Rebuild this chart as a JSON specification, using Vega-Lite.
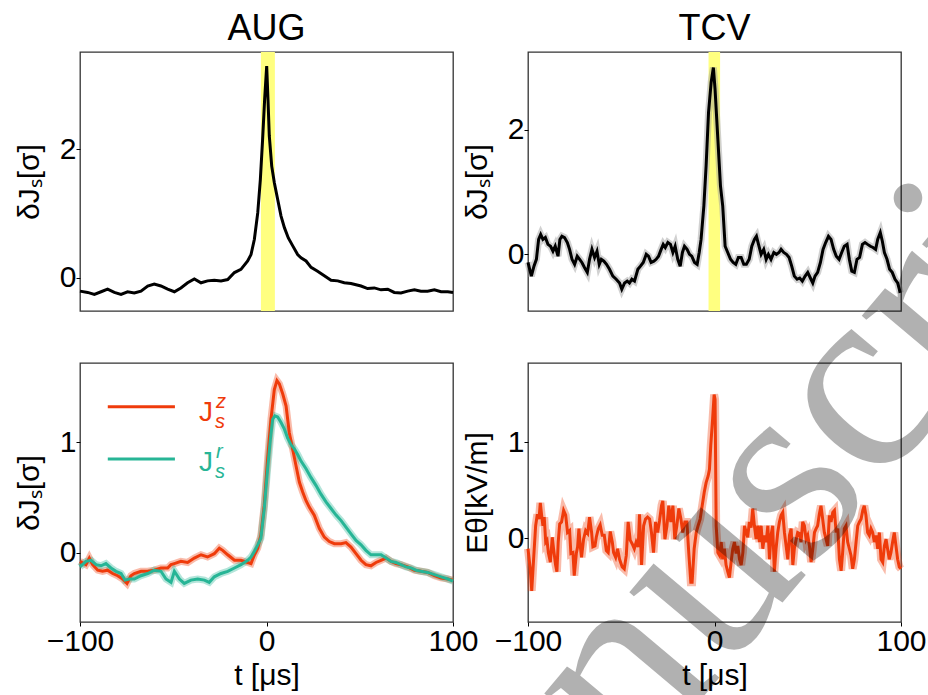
{
  "$schema": "https://vega.github.io/schema/vega-lite/v6.json",
  "padding": {"left": 13, "top": 10, "right": 0, "bottom": 0},
  "background": "white",
  "columns": 2,
  "bounds": "flush",
  "spacing": {"row": 52, "column": 75},
  "config": {
    "font": "Liberation Sans",
    "view": {"stroke": "#333", "strokeWidth": 1.3},
    "axis": {"domain": false, "grid": false, "ticks": true, "tickColor": "#000", "tickSize": 4, "tickWidth": 1, "labelFontSize": 30, "titleFontSize": 30, "titleFontWeight": "normal", "labelColor": "#000", "titleColor": "#000", "labelPadding": 0, "labelFont": "Liberation Sans", "titleFont": "Liberation Sans", "labelOverlap": false, "labelBound": false, "labelFlush": false, "format": "d"},
    "title": {"fontSize": 36, "fontWeight": "normal", "font": "Liberation Sans", "color": "#000", "offset": 0}
  },
  "datasets": {
    "augband": [{"a": -3.0, "b": 4.5}],
    "tcvband": [{"a": -3.2, "b": 3.0}],
    "aug": [
      {"t": -100, "v": -0.21}, {"t": -95.9, "v": -0.23}, {"t": -92.3, "v": -0.26}, {"t": -88.7, "v": -0.22}, {"t": -85.2, "v": -0.18}, {"t": -81.6, "v": -0.23}, {"t": -78.0, "v": -0.26}, {"t": -74.5, "v": -0.22}, {"t": -70.9, "v": -0.24}, {"t": -67.3, "v": -0.21}, {"t": -63.7, "v": -0.13}, {"t": -60.2, "v": -0.10}, {"t": -56.6, "v": -0.13}, {"t": -53.0, "v": -0.18}, {"t": -49.4, "v": -0.22}, {"t": -45.9, "v": -0.16}, {"t": -42.3, "v": -0.08}, {"t": -38.7, "v": -0.02}, {"t": -35.1, "v": -0.08}, {"t": -31.6, "v": -0.05}, {"t": -28.0, "v": -0.04}, {"t": -24.4, "v": -0.05}, {"t": -20.8, "v": -0.03}, {"t": -17.2, "v": 0.08}, {"t": -13.7, "v": 0.13}, {"t": -10.1, "v": 0.26}, {"t": -8.3, "v": 0.36}, {"t": -6.5, "v": 0.60}, {"t": -4.7, "v": 1.01}, {"t": -3.3, "v": 1.53}, {"t": -2.1, "v": 2.15}, {"t": -1.0, "v": 2.78}, {"t": 0.1, "v": 3.30}, {"t": 0.8, "v": 2.78}, {"t": 1.5, "v": 2.21}, {"t": 2.8, "v": 1.74}, {"t": 4.2, "v": 1.48}, {"t": 6.0, "v": 1.22}, {"t": 7.8, "v": 0.96}, {"t": 9.6, "v": 0.78}, {"t": 11.7, "v": 0.62}, {"t": 14.0, "v": 0.50}, {"t": 16.7, "v": 0.36}, {"t": 18.5, "v": 0.31}, {"t": 21.2, "v": 0.26}, {"t": 23.9, "v": 0.16}, {"t": 27.4, "v": 0.10}, {"t": 31.0, "v": 0.03}, {"t": 34.6, "v": -0.04}, {"t": 38.2, "v": -0.05}, {"t": 41.7, "v": -0.08}, {"t": 45.3, "v": -0.09}, {"t": 50.7, "v": -0.13}, {"t": 54.2, "v": -0.17}, {"t": 57.8, "v": -0.16}, {"t": 61.4, "v": -0.19}, {"t": 65.0, "v": -0.18}, {"t": 68.5, "v": -0.23}, {"t": 72.1, "v": -0.24}, {"t": 75.7, "v": -0.21}, {"t": 79.3, "v": -0.19}, {"t": 82.8, "v": -0.21}, {"t": 86.4, "v": -0.21}, {"t": 90.0, "v": -0.19}, {"t": 93.6, "v": -0.22}, {"t": 97.2, "v": -0.22}, {"t": 100, "v": -0.23}
    ],
    "tcv": [
      {"t": -100.0, "v": -0.13}, {"t": -98.2, "v": -0.35}, {"t": -96.8, "v": -0.19}, {"t": -95.5, "v": -0.08}, {"t": -94.3, "v": 0.24}, {"t": -93.2, "v": 0.32}, {"t": -92.0, "v": 0.24}, {"t": -90.7, "v": 0.27}, {"t": -89.3, "v": 0.16}, {"t": -87.9, "v": 0.13}, {"t": -86.6, "v": 0.05}, {"t": -85.4, "v": 0.13}, {"t": -83.9, "v": -0.03}, {"t": -82.9, "v": 0.24}, {"t": -81.8, "v": 0.29}, {"t": -80.4, "v": 0.27}, {"t": -78.9, "v": 0.19}, {"t": -77.7, "v": 0.08}, {"t": -76.4, "v": -0.08}, {"t": -75.0, "v": -0.16}, {"t": -73.6, "v": -0.03}, {"t": -72.3, "v": -0.08}, {"t": -71.1, "v": -0.13}, {"t": -69.7, "v": -0.21}, {"t": -68.2, "v": -0.29}, {"t": -67.0, "v": -0.08}, {"t": -65.7, "v": 0.08}, {"t": -64.3, "v": -0.05}, {"t": -63.0, "v": 0.05}, {"t": -61.8, "v": -0.16}, {"t": -60.7, "v": -0.08}, {"t": -59.3, "v": -0.11}, {"t": -57.9, "v": -0.16}, {"t": -56.3, "v": -0.24}, {"t": -54.5, "v": -0.35}, {"t": -52.7, "v": -0.40}, {"t": -50.9, "v": -0.46}, {"t": -49.7, "v": -0.56}, {"t": -48.2, "v": -0.46}, {"t": -46.8, "v": -0.43}, {"t": -45.6, "v": -0.46}, {"t": -44.3, "v": -0.40}, {"t": -42.9, "v": -0.43}, {"t": -41.1, "v": -0.24}, {"t": -39.7, "v": -0.19}, {"t": -38.2, "v": -0.13}, {"t": -36.6, "v": 0.0}, {"t": -35.4, "v": -0.03}, {"t": -34.0, "v": -0.13}, {"t": -32.5, "v": -0.11}, {"t": -31.3, "v": -0.08}, {"t": -30.0, "v": -0.03}, {"t": -28.6, "v": 0.08}, {"t": -27.5, "v": 0.16}, {"t": -26.4, "v": 0.11}, {"t": -25.0, "v": 0.19}, {"t": -23.6, "v": 0.16}, {"t": -22.3, "v": 0.03}, {"t": -21.1, "v": 0.13}, {"t": -19.7, "v": -0.08}, {"t": -18.4, "v": -0.19}, {"t": -17.2, "v": 0.03}, {"t": -16.1, "v": 0.13}, {"t": -14.7, "v": 0.08}, {"t": -13.4, "v": 0.0}, {"t": -12.2, "v": -0.03}, {"t": -10.7, "v": -0.13}, {"t": -9.3, "v": -0.16}, {"t": -8.2, "v": 0.03}, {"t": -7.2, "v": 0.24}, {"t": -5.7, "v": 0.78}, {"t": -4.5, "v": 1.42}, {"t": -3.2, "v": 2.28}, {"t": -1.8, "v": 2.76}, {"t": -0.6, "v": 3.00}, {"t": 0.3, "v": 2.65}, {"t": 1.8, "v": 1.85}, {"t": 3.2, "v": 1.10}, {"t": 4.4, "v": 0.78}, {"t": 5.7, "v": 0.13}, {"t": 7.1, "v": 0.03}, {"t": 8.6, "v": -0.08}, {"t": 10.0, "v": -0.13}, {"t": 11.4, "v": -0.16}, {"t": 12.8, "v": -0.05}, {"t": 14.3, "v": -0.05}, {"t": 15.7, "v": -0.16}, {"t": 17.1, "v": -0.16}, {"t": 18.6, "v": -0.08}, {"t": 20.0, "v": 0.13}, {"t": 21.4, "v": 0.24}, {"t": 22.5, "v": 0.29}, {"t": 23.6, "v": 0.16}, {"t": 25.0, "v": 0.0}, {"t": 26.4, "v": 0.08}, {"t": 27.7, "v": -0.08}, {"t": 28.9, "v": 0.0}, {"t": 30.3, "v": -0.08}, {"t": 31.8, "v": 0.03}, {"t": 33.2, "v": 0.0}, {"t": 34.6, "v": 0.03}, {"t": 35.7, "v": 0.08}, {"t": 37.1, "v": 0.03}, {"t": 38.6, "v": 0.0}, {"t": 40.0, "v": -0.05}, {"t": 41.4, "v": -0.19}, {"t": 42.8, "v": -0.35}, {"t": 44.3, "v": -0.40}, {"t": 45.7, "v": -0.38}, {"t": 47.1, "v": -0.43}, {"t": 48.6, "v": -0.35}, {"t": 50.0, "v": -0.29}, {"t": 51.4, "v": -0.38}, {"t": 52.7, "v": -0.46}, {"t": 53.9, "v": -0.35}, {"t": 55.3, "v": -0.29}, {"t": 56.8, "v": -0.13}, {"t": 58.2, "v": 0.08}, {"t": 59.6, "v": 0.19}, {"t": 61.1, "v": 0.29}, {"t": 62.5, "v": 0.24}, {"t": 63.9, "v": 0.08}, {"t": 65.3, "v": -0.03}, {"t": 66.8, "v": -0.08}, {"t": 68.2, "v": 0.03}, {"t": 69.6, "v": 0.13}, {"t": 71.1, "v": 0.16}, {"t": 72.3, "v": -0.08}, {"t": 73.6, "v": -0.27}, {"t": 75.0, "v": -0.29}, {"t": 76.4, "v": -0.08}, {"t": 77.8, "v": -0.05}, {"t": 79.3, "v": 0.16}, {"t": 80.7, "v": 0.19}, {"t": 82.1, "v": 0.16}, {"t": 83.6, "v": 0.13}, {"t": 85.0, "v": 0.11}, {"t": 86.4, "v": 0.08}, {"t": 87.5, "v": 0.24}, {"t": 88.9, "v": 0.35}, {"t": 90.0, "v": 0.21}, {"t": 91.1, "v": 0.03}, {"t": 92.5, "v": -0.08}, {"t": 93.9, "v": -0.24}, {"t": 95.3, "v": -0.29}, {"t": 96.8, "v": -0.40}, {"t": 98.2, "v": -0.46}, {"t": 99.6, "v": -0.62}
    ],
    "augj": [
      {"series": "z", "t": -100, "v": -0.08}, {"series": "z", "t": -96.8, "v": -0.11}, {"series": "z", "t": -95.0, "v": -0.05}, {"series": "z", "t": -93.2, "v": -0.11}, {"series": "z", "t": -90.5, "v": -0.16}, {"series": "z", "t": -87.9, "v": -0.17}, {"series": "z", "t": -85.2, "v": -0.16}, {"series": "z", "t": -82.5, "v": -0.19}, {"series": "z", "t": -79.8, "v": -0.21}, {"series": "z", "t": -77.1, "v": -0.24}, {"series": "z", "t": -74.8, "v": -0.28}, {"series": "z", "t": -72.7, "v": -0.21}, {"series": "z", "t": -70.9, "v": -0.19}, {"series": "z", "t": -67.3, "v": -0.17}, {"series": "z", "t": -63.7, "v": -0.17}, {"series": "z", "t": -60.2, "v": -0.16}, {"series": "z", "t": -56.6, "v": -0.14}, {"series": "z", "t": -53.0, "v": -0.14}, {"series": "z", "t": -51.2, "v": -0.11}, {"series": "z", "t": -49.4, "v": -0.10}, {"series": "z", "t": -45.9, "v": -0.08}, {"series": "z", "t": -42.3, "v": -0.09}, {"series": "z", "t": -38.7, "v": -0.05}, {"series": "z", "t": -35.1, "v": -0.02}, {"series": "z", "t": -31.6, "v": -0.04}, {"series": "z", "t": -28.0, "v": -0.01}, {"series": "z", "t": -25.3, "v": 0.04}, {"series": "z", "t": -23.5, "v": 0.02}, {"series": "z", "t": -20.8, "v": -0.02}, {"series": "z", "t": -17.2, "v": -0.07}, {"series": "z", "t": -13.7, "v": -0.07}, {"series": "z", "t": -10.1, "v": -0.09}, {"series": "z", "t": -8.3, "v": -0.10}, {"series": "z", "t": -6.5, "v": -0.02}, {"series": "z", "t": -4.7, "v": 0.04}, {"series": "z", "t": -3.0, "v": 0.16}, {"series": "z", "t": -1.2, "v": 0.43}, {"series": "z", "t": 0.6, "v": 0.85}, {"series": "z", "t": 2.4, "v": 1.21}, {"series": "z", "t": 4.2, "v": 1.48}, {"series": "z", "t": 5.6, "v": 1.56}, {"series": "z", "t": 6.9, "v": 1.53}, {"series": "z", "t": 8.7, "v": 1.44}, {"series": "z", "t": 10.5, "v": 1.33}, {"series": "z", "t": 12.2, "v": 1.09}, {"series": "z", "t": 14.0, "v": 0.94}, {"series": "z", "t": 15.8, "v": 0.79}, {"series": "z", "t": 17.6, "v": 0.64}, {"series": "z", "t": 19.4, "v": 0.55}, {"series": "z", "t": 21.2, "v": 0.47}, {"series": "z", "t": 23.0, "v": 0.41}, {"series": "z", "t": 25.6, "v": 0.34}, {"series": "z", "t": 28.3, "v": 0.22}, {"series": "z", "t": 31.0, "v": 0.14}, {"series": "z", "t": 33.7, "v": 0.10}, {"series": "z", "t": 36.4, "v": 0.08}, {"series": "z", "t": 40.0, "v": 0.08}, {"series": "z", "t": 42.6, "v": 0.09}, {"series": "z", "t": 45.3, "v": 0.05}, {"series": "z", "t": 48.0, "v": -0.01}, {"series": "z", "t": 50.7, "v": -0.07}, {"series": "z", "t": 53.3, "v": -0.11}, {"series": "z", "t": 56.0, "v": -0.12}, {"series": "z", "t": 58.7, "v": -0.09}, {"series": "z", "t": 61.4, "v": -0.07}, {"series": "z", "t": 64.1, "v": -0.05}, {"series": "z", "t": 66.8, "v": -0.08}, {"series": "z", "t": 69.4, "v": -0.10}, {"series": "z", "t": 72.1, "v": -0.11}, {"series": "z", "t": 75.7, "v": -0.13}, {"series": "z", "t": 79.3, "v": -0.16}, {"series": "z", "t": 82.8, "v": -0.17}, {"series": "z", "t": 86.4, "v": -0.18}, {"series": "z", "t": 90.0, "v": -0.21}, {"series": "z", "t": 93.6, "v": -0.23}, {"series": "z", "t": 97.2, "v": -0.24}, {"series": "z", "t": 100, "v": -0.25},
      {"series": "r", "t": -100, "v": -0.13}, {"series": "r", "t": -96.8, "v": -0.08}, {"series": "r", "t": -94.1, "v": -0.07}, {"series": "r", "t": -91.4, "v": -0.11}, {"series": "r", "t": -88.7, "v": -0.12}, {"series": "r", "t": -86.1, "v": -0.10}, {"series": "r", "t": -83.4, "v": -0.14}, {"series": "r", "t": -80.7, "v": -0.17}, {"series": "r", "t": -78.0, "v": -0.19}, {"series": "r", "t": -75.9, "v": -0.25}, {"series": "r", "t": -73.6, "v": -0.24}, {"series": "r", "t": -70.9, "v": -0.24}, {"series": "r", "t": -67.3, "v": -0.21}, {"series": "r", "t": -63.7, "v": -0.19}, {"series": "r", "t": -60.2, "v": -0.16}, {"series": "r", "t": -56.6, "v": -0.17}, {"series": "r", "t": -53.9, "v": -0.24}, {"series": "r", "t": -51.2, "v": -0.27}, {"series": "r", "t": -49.4, "v": -0.17}, {"series": "r", "t": -46.7, "v": -0.24}, {"series": "r", "t": -44.1, "v": -0.28}, {"series": "r", "t": -40.5, "v": -0.25}, {"series": "r", "t": -36.9, "v": -0.24}, {"series": "r", "t": -33.3, "v": -0.25}, {"series": "r", "t": -30.7, "v": -0.27}, {"series": "r", "t": -28.0, "v": -0.22}, {"series": "r", "t": -24.4, "v": -0.19}, {"series": "r", "t": -20.8, "v": -0.17}, {"series": "r", "t": -17.2, "v": -0.14}, {"series": "r", "t": -13.7, "v": -0.11}, {"series": "r", "t": -10.1, "v": -0.07}, {"series": "r", "t": -8.3, "v": -0.04}, {"series": "r", "t": -6.5, "v": 0.01}, {"series": "r", "t": -4.7, "v": 0.07}, {"series": "r", "t": -3.0, "v": 0.13}, {"series": "r", "t": -1.2, "v": 0.40}, {"series": "r", "t": 0.6, "v": 0.76}, {"series": "r", "t": 2.1, "v": 1.03}, {"series": "r", "t": 3.3, "v": 1.21}, {"series": "r", "t": 4.5, "v": 1.24}, {"series": "r", "t": 6.0, "v": 1.23}, {"series": "r", "t": 7.8, "v": 1.18}, {"series": "r", "t": 9.6, "v": 1.12}, {"series": "r", "t": 11.3, "v": 1.04}, {"series": "r", "t": 13.1, "v": 0.98}, {"series": "r", "t": 14.9, "v": 0.94}, {"series": "r", "t": 16.7, "v": 0.89}, {"series": "r", "t": 18.5, "v": 0.83}, {"series": "r", "t": 21.2, "v": 0.76}, {"series": "r", "t": 23.9, "v": 0.68}, {"series": "r", "t": 26.5, "v": 0.61}, {"series": "r", "t": 29.2, "v": 0.53}, {"series": "r", "t": 31.9, "v": 0.46}, {"series": "r", "t": 34.6, "v": 0.40}, {"series": "r", "t": 37.3, "v": 0.34}, {"series": "r", "t": 40.0, "v": 0.29}, {"series": "r", "t": 42.6, "v": 0.23}, {"series": "r", "t": 45.3, "v": 0.17}, {"series": "r", "t": 48.0, "v": 0.11}, {"series": "r", "t": 50.7, "v": 0.07}, {"series": "r", "t": 53.3, "v": 0.02}, {"series": "r", "t": 56.0, "v": -0.02}, {"series": "r", "t": 58.7, "v": -0.02}, {"series": "r", "t": 61.4, "v": -0.02}, {"series": "r", "t": 64.1, "v": -0.05}, {"series": "r", "t": 66.8, "v": -0.08}, {"series": "r", "t": 69.4, "v": -0.09}, {"series": "r", "t": 72.1, "v": -0.11}, {"series": "r", "t": 74.8, "v": -0.13}, {"series": "r", "t": 77.5, "v": -0.14}, {"series": "r", "t": 80.2, "v": -0.16}, {"series": "r", "t": 82.8, "v": -0.17}, {"series": "r", "t": 86.4, "v": -0.18}, {"series": "r", "t": 90.0, "v": -0.20}, {"series": "r", "t": 93.6, "v": -0.22}, {"series": "r", "t": 97.2, "v": -0.24}, {"series": "r", "t": 100, "v": -0.26}
    ],
    "keyrows": [
      {"series": "z", "t1": -85.1, "t2": -49.1, "y": 1.324, "tl": -36.2, "yb": 1.195, "label": "J"},
      {"series": "r", "t1": -85.1, "t2": -49.1, "y": 0.849, "tl": -36.2, "yb": 0.743, "label": "J"}
    ],
    "tcve": [
      {"t": -100.0, "v": -0.11}, {"t": -98.8, "v": -0.32}, {"t": -98.0, "v": -0.55}, {"t": -97.0, "v": -0.22}, {"t": -95.9, "v": 0.13}, {"t": -95.0, "v": 0.25}, {"t": -94.1, "v": 0.20}, {"t": -93.4, "v": 0.37}, {"t": -92.7, "v": 0.24}, {"t": -92.0, "v": 0.13}, {"t": -91.3, "v": 0.22}, {"t": -90.5, "v": -0.04}, {"t": -89.8, "v": -0.02}, {"t": -89.1, "v": -0.15}, {"t": -88.0, "v": -0.25}, {"t": -87.0, "v": 0.01}, {"t": -86.3, "v": -0.11}, {"t": -85.2, "v": -0.28}, {"t": -84.5, "v": -0.35}, {"t": -83.8, "v": -0.04}, {"t": -83.0, "v": 0.15}, {"t": -82.0, "v": 0.17}, {"t": -80.9, "v": 0.29}, {"t": -79.8, "v": 0.24}, {"t": -78.8, "v": 0.06}, {"t": -77.7, "v": 0.08}, {"t": -77.0, "v": -0.16}, {"t": -75.9, "v": -0.15}, {"t": -75.2, "v": -0.39}, {"t": -74.1, "v": -0.16}, {"t": -73.4, "v": -0.09}, {"t": -72.7, "v": 0.10}, {"t": -72.0, "v": -0.08}, {"t": -71.3, "v": -0.20}, {"t": -70.2, "v": -0.01}, {"t": -69.1, "v": 0.08}, {"t": -68.0, "v": 0.05}, {"t": -67.0, "v": 0.22}, {"t": -65.9, "v": 0.06}, {"t": -65.2, "v": -0.09}, {"t": -64.1, "v": -0.08}, {"t": -63.4, "v": 0.01}, {"t": -62.3, "v": 0.10}, {"t": -61.3, "v": 0.14}, {"t": -60.2, "v": 0.03}, {"t": -59.1, "v": 0.03}, {"t": -58.0, "v": -0.13}, {"t": -57.0, "v": -0.15}, {"t": -55.9, "v": 0.07}, {"t": -54.8, "v": -0.04}, {"t": -54.1, "v": -0.15}, {"t": -53.0, "v": -0.20}, {"t": -52.0, "v": -0.11}, {"t": -50.9, "v": -0.22}, {"t": -49.5, "v": -0.30}, {"t": -48.4, "v": -0.32}, {"t": -47.3, "v": -0.18}, {"t": -46.3, "v": 0.17}, {"t": -45.2, "v": -0.02}, {"t": -44.1, "v": -0.06}, {"t": -43.0, "v": -0.11}, {"t": -42.0, "v": -0.04}, {"t": -40.9, "v": -0.09}, {"t": -40.2, "v": 0.25}, {"t": -39.1, "v": -0.28}, {"t": -38.0, "v": 0.13}, {"t": -37.0, "v": 0.20}, {"t": -35.9, "v": 0.22}, {"t": -34.8, "v": 0.20}, {"t": -33.8, "v": 0.06}, {"t": -32.7, "v": -0.15}, {"t": -31.6, "v": 0.17}, {"t": -30.5, "v": 0.06}, {"t": -29.5, "v": 0.18}, {"t": -28.4, "v": 0.34}, {"t": -27.7, "v": 0.39}, {"t": -26.6, "v": -0.01}, {"t": -25.5, "v": 0.13}, {"t": -24.5, "v": 0.34}, {"t": -23.4, "v": 0.17}, {"t": -22.3, "v": 0.34}, {"t": -21.3, "v": -0.01}, {"t": -20.2, "v": 0.13}, {"t": -19.1, "v": 0.31}, {"t": -18.0, "v": 0.20}, {"t": -17.0, "v": 0.06}, {"t": -15.9, "v": 0.17}, {"t": -14.8, "v": 0.17}, {"t": -13.8, "v": -0.15}, {"t": -12.7, "v": -0.46}, {"t": -12.0, "v": -0.46}, {"t": -10.9, "v": -0.11}, {"t": -9.8, "v": 0.06}, {"t": -8.8, "v": 0.13}, {"t": -7.7, "v": 0.20}, {"t": -6.6, "v": 0.34}, {"t": -5.5, "v": 0.48}, {"t": -4.5, "v": 0.58}, {"t": -3.4, "v": 0.65}, {"t": -2.7, "v": 0.72}, {"t": -2.0, "v": 0.97}, {"t": -1.0, "v": 1.25}, {"t": -0.2, "v": 1.50}, {"t": 0.3, "v": 1.45}, {"t": 0.9, "v": 0.13}, {"t": 1.8, "v": -0.15}, {"t": 2.7, "v": -0.18}, {"t": 3.6, "v": -0.04}, {"t": 4.4, "v": -0.22}, {"t": 5.3, "v": -0.11}, {"t": 6.2, "v": -0.28}, {"t": 7.1, "v": -0.35}, {"t": 8.0, "v": -0.41}, {"t": 8.9, "v": -0.25}, {"t": 9.8, "v": -0.11}, {"t": 10.7, "v": -0.04}, {"t": 11.6, "v": -0.16}, {"t": 12.5, "v": -0.08}, {"t": 13.4, "v": -0.22}, {"t": 14.3, "v": -0.28}, {"t": 15.2, "v": -0.15}, {"t": 16.1, "v": 0.13}, {"t": 17.0, "v": 0.06}, {"t": 17.8, "v": 0.01}, {"t": 18.7, "v": 0.17}, {"t": 19.6, "v": 0.11}, {"t": 20.5, "v": 0.31}, {"t": 21.4, "v": 0.13}, {"t": 22.3, "v": -0.01}, {"t": 23.2, "v": 0.13}, {"t": 24.1, "v": -0.04}, {"t": 25.0, "v": 0.13}, {"t": 25.9, "v": -0.11}, {"t": 26.8, "v": 0.03}, {"t": 27.7, "v": -0.04}, {"t": 28.6, "v": 0.13}, {"t": 29.5, "v": -0.22}, {"t": 30.3, "v": 0.03}, {"t": 31.2, "v": 0.13}, {"t": 32.1, "v": -0.35}, {"t": 33.0, "v": -0.11}, {"t": 33.9, "v": 0.06}, {"t": 34.8, "v": 0.17}, {"t": 35.7, "v": 0.24}, {"t": 36.6, "v": 0.27}, {"t": 37.5, "v": 0.06}, {"t": 38.4, "v": -0.08}, {"t": 39.3, "v": -0.22}, {"t": 40.2, "v": 0.03}, {"t": 41.1, "v": 0.10}, {"t": 42.0, "v": -0.28}, {"t": 42.8, "v": -0.11}, {"t": 43.7, "v": -0.02}, {"t": 44.6, "v": 0.06}, {"t": 45.5, "v": 0.05}, {"t": 46.4, "v": -0.04}, {"t": 47.3, "v": 0.17}, {"t": 48.2, "v": 0.13}, {"t": 49.1, "v": -0.01}, {"t": 50.0, "v": 0.03}, {"t": 50.9, "v": -0.08}, {"t": 51.8, "v": -0.25}, {"t": 52.7, "v": -0.11}, {"t": 53.6, "v": 0.06}, {"t": 54.5, "v": 0.10}, {"t": 55.3, "v": 0.13}, {"t": 56.2, "v": 0.25}, {"t": 57.1, "v": 0.34}, {"t": 58.0, "v": 0.20}, {"t": 58.9, "v": 0.06}, {"t": 59.8, "v": -0.01}, {"t": 60.7, "v": -0.08}, {"t": 61.6, "v": 0.24}, {"t": 62.5, "v": 0.17}, {"t": 63.4, "v": 0.27}, {"t": 64.3, "v": 0.29}, {"t": 65.2, "v": 0.06}, {"t": 66.1, "v": 0.10}, {"t": 67.0, "v": -0.22}, {"t": 67.9, "v": -0.34}, {"t": 68.7, "v": -0.15}, {"t": 69.6, "v": 0.10}, {"t": 70.5, "v": 0.13}, {"t": 71.4, "v": -0.04}, {"t": 72.3, "v": -0.11}, {"t": 73.2, "v": -0.18}, {"t": 74.1, "v": -0.32}, {"t": 75.0, "v": -0.22}, {"t": 75.9, "v": -0.04}, {"t": 76.8, "v": 0.13}, {"t": 77.7, "v": 0.17}, {"t": 78.6, "v": 0.20}, {"t": 79.5, "v": 0.29}, {"t": 80.3, "v": 0.34}, {"t": 81.2, "v": 0.24}, {"t": 82.1, "v": 0.06}, {"t": 83.0, "v": 0.03}, {"t": 83.9, "v": 0.10}, {"t": 84.8, "v": 0.06}, {"t": 85.7, "v": -0.04}, {"t": 86.6, "v": 0.03}, {"t": 87.5, "v": -0.11}, {"t": 88.4, "v": 0.06}, {"t": 89.3, "v": -0.22}, {"t": 90.2, "v": -0.25}, {"t": 91.1, "v": -0.08}, {"t": 92.0, "v": -0.01}, {"t": 92.8, "v": -0.11}, {"t": 93.7, "v": -0.22}, {"t": 94.6, "v": -0.15}, {"t": 95.5, "v": -0.04}, {"t": 96.4, "v": 0.06}, {"t": 97.3, "v": -0.08}, {"t": 98.2, "v": -0.22}, {"t": 99.1, "v": -0.30}, {"t": 100.0, "v": -0.32}
    ],
    "wm": [
      {"t": -42.5, "v": -2.503, "ch": "n"},
      {"t": 4.0, "v": -1.426, "ch": "u"},
      {"t": 50.5, "v": -0.349, "ch": "s"},
      {"t": 86.6, "v": 0.490, "ch": "c"},
      {"t": 128.0, "v": 1.447, "ch": "r"},
      {"t": 159.0, "v": 2.165, "ch": "i"}
    ]
  },
  "concat": [
    {
      "width": 373, "height": 259,
      "title": "AUG",
      "layer": [
        {"data": {"name": "augband"}, "mark": {"type": "rect", "color": "#ffff80"},
         "encoding": {"x": {"field": "a", "type": "quantitative", "scale": {"domain": [-100, 100], "nice": false}, "axis": null}, "x2": {"field": "b"}}},
        {"data": {"name": "aug"}, "mark": {"type": "line", "color": "#000000", "strokeWidth": 3},
         "encoding": {"x": {"field": "t", "type": "quantitative", "axis": null},
                      "y": {"field": "v", "type": "quantitative", "scale": {"domain": [-0.52, 3.52], "nice": false, "zero": false}, "axis": {"values": [0, 2], "title": "δJₛ[σ]", "titlePadding": 15}}}}
      ]
    },
    {
      "width": 373, "height": 259,
      "title": "TCV",
      "layer": [
        {"data": {"name": "tcvband"}, "mark": {"type": "rect", "color": "#ffff80"},
         "encoding": {"x": {"field": "a", "type": "quantitative", "scale": {"domain": [-100, 100], "nice": false}, "axis": null}, "x2": {"field": "b"}}},
        {"data": {"name": "tcv"}, "mark": {"type": "line", "color": "#9a9a9a", "strokeWidth": 7, "opacity": 0.45},
         "encoding": {"x": {"field": "t", "type": "quantitative", "axis": null}, "y": {"field": "v", "type": "quantitative", "scale": {"domain": [-0.91, 3.25], "nice": false, "zero": false}, "axis": {"values": [0, 2], "title": "δJₛ[σ]", "titlePadding": 15}}}},
        {"data": {"name": "tcv"}, "mark": {"type": "line", "color": "#000000", "strokeWidth": 3},
         "encoding": {"x": {"field": "t", "type": "quantitative", "axis": null},
                      "y": {"field": "v", "type": "quantitative", "axis": {"values": [0, 2], "title": "δJₛ[σ]", "titlePadding": 15}}}}
      ]
    },
    {
      "width": 373, "height": 259,
      "layer": [
        {"data": {"name": "augj"}, "mark": {"type": "line", "strokeWidth": 7, "opacity": 0.35},
         "encoding": {"x": {"field": "t", "type": "quantitative", "scale": {"domain": [-100, 100], "nice": false}, "axis": {"values": [-100, 0, 100], "title": "t [μs]", "titlePadding": 4}},
                      "y": {"field": "v", "type": "quantitative", "scale": {"domain": [-0.63, 1.72], "nice": false, "zero": false}, "axis": {"values": [0, 1], "title": "δJₛ[σ]", "titlePadding": 15}},
                      "color": {"field": "series", "type": "nominal", "scale": {"domain": ["z", "r"], "range": ["#ef3b0b", "#27b596"]}, "legend": null}}},
        {"data": {"name": "augj"}, "mark": {"type": "line", "strokeWidth": 3},
         "encoding": {"x": {"field": "t", "type": "quantitative"},
                      "y": {"field": "v", "type": "quantitative"},
                      "color": {"field": "series", "type": "nominal", "legend": null}}},
        {"data": {"name": "keyrows"}, "mark": {"type": "rule", "strokeWidth": 3},
         "encoding": {"x": {"field": "t1", "type": "quantitative"}, "x2": {"field": "t2"}, "y": {"field": "y", "type": "quantitative"}, "color": {"field": "series", "type": "nominal", "legend": null}}},
        {"data": {"name": "keyrows"}, "mark": {"type": "text", "align": "left", "baseline": "alphabetic", "fontSize": 28},
         "encoding": {"x": {"field": "tl", "type": "quantitative"}, "y": {"field": "yb", "type": "quantitative"}, "text": {"field": "label", "type": "nominal"}, "color": {"field": "series", "type": "nominal", "legend": null}}},
        {"data": {"name": "keyrows"}, "mark": {"type": "text", "align": "left", "baseline": "alphabetic", "fontSize": 20, "fontStyle": "italic", "dx": 16, "dy": 7, "text": "s"},
         "encoding": {"x": {"field": "tl", "type": "quantitative"}, "y": {"field": "yb", "type": "quantitative"}, "color": {"field": "series", "type": "nominal", "legend": null}}},
        {"data": {"name": "keyrows"}, "mark": {"type": "text", "align": "left", "baseline": "alphabetic", "fontSize": 20, "fontStyle": "italic", "dx": 17, "dy": -13},
         "encoding": {"x": {"field": "tl", "type": "quantitative"}, "y": {"field": "yb", "type": "quantitative"}, "text": {"field": "series", "type": "nominal"}, "color": {"field": "series", "type": "nominal", "legend": null}}}
      ]
    },
    {
      "width": 373, "height": 259,
      "layer": [
        {"data": {"name": "tcve"}, "mark": {"type": "line", "color": "#ef3b0b", "strokeWidth": 8, "opacity": 0.35},
         "encoding": {"x": {"field": "t", "type": "quantitative", "scale": {"domain": [-100, 100], "nice": false}, "axis": {"values": [-100, 0, 100], "title": "t [μs]", "titlePadding": 4}},
                      "y": {"field": "v", "type": "quantitative", "scale": {"domain": [-0.875, 1.83], "nice": false, "zero": false}, "axis": {"values": [0, 1], "title": "Eθ[kV/m]", "titlePadding": 15}}}},
        {"data": {"name": "tcve"}, "mark": {"type": "line", "color": "#ef3b0b", "strokeWidth": 3},
         "encoding": {"x": {"field": "t", "type": "quantitative"}, "y": {"field": "v", "type": "quantitative"}}},
        {"data": {"name": "wm"}, "mark": {"type": "text", "font": "Liberation Serif", "fontSize": 270, "angle": 310, "align": "left", "baseline": "alphabetic", "color": "#000000", "opacity": 0.3},
         "encoding": {"x": {"field": "t", "type": "quantitative"}, "y": {"field": "v", "type": "quantitative"}, "text": {"field": "ch", "type": "nominal"}}}
      ]
    }
  ]
}
